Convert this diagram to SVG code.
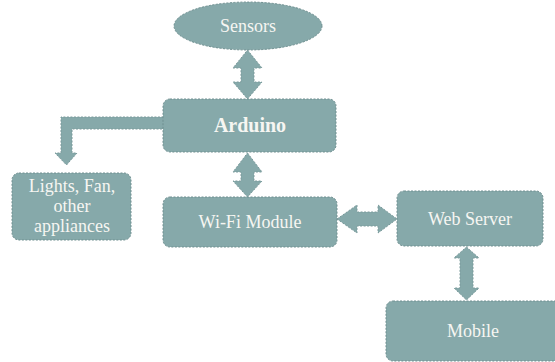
<svg xmlns="http://www.w3.org/2000/svg" width="555" height="362" viewBox="0 0 555 362">
<style>
.box{fill:#86a9aa;stroke:#6f8f90;stroke-width:1;stroke-dasharray:2 1.5}
.arr{fill:#86a9aa;stroke:#7a9a9b;stroke-width:1;stroke-dasharray:2 1.5}
.t{font-family:"Liberation Serif","DejaVu Serif",serif;font-size:18px;fill:#f6f6f2;text-anchor:middle}
.b{font-weight:bold;font-size:20px}
</style>
<rect width="555" height="362" fill="#ffffff"/>
<g id="connectors">
<polygon class="arr" points="247.5,50 262,68 254,68 254,82 262,82 247.5,99 233,82 241,82 241,68 233,68"/>
<polygon class="arr" points="247.5,153 262,172 254,172 254,181 262,181 247.5,197 233,181 241,181 241,172 233,172"/>
<polygon class="arr" points="337,219 357,205 357,212 378,212 378,205 397,219 378,233 378,226 357,226 357,233"/>
<polygon class="arr" points="466.5,247 479,258 473,258 473,288 479,288 466.5,300 454,288 460,288 460,258 454,258"/>
<polygon class="arr" points="164,117 164,129 72,129 72,153 77,153 66.5,165 55,153 61,153 61,117"/>
</g>
<g id="sensors">
<ellipse class="box" cx="248" cy="26" rx="74" ry="24"/>
<text class="t" x="248" y="32">Sensors</text>
</g>
<g id="arduino">
<rect class="box" x="163" y="99" width="173" height="53" rx="7"/>
<text class="t b" x="250" y="132">Arduino</text>
</g>
<g id="appliances">
<rect class="box" x="12" y="173" width="119" height="67" rx="7"/>
<text class="t" x="72" y="192">Lights, Fan,</text>
<text class="t" x="72" y="212">other</text>
<text class="t" x="72" y="232">appliances</text>
</g>
<g id="wifi">
<rect class="box" x="163" y="197" width="174" height="50" rx="7"/>
<text class="t" x="250" y="228">Wi-Fi Module</text>
</g>
<g id="webserver">
<rect class="box" x="397" y="191" width="146" height="55" rx="7"/>
<text class="t" x="470" y="225">Web Server</text>
</g>
<g id="mobile">
<rect class="box" x="386" y="301" width="176" height="60" rx="7"/>
<text class="t" x="473" y="337">Mobile</text>
</g>
</svg>
